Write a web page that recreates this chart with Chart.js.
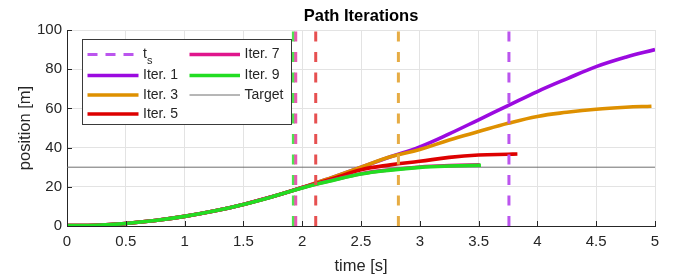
<!DOCTYPE html>
<html>
<head>
<meta charset="utf-8">
<script src="https://cdn.jsdelivr.net/npm/chart.js@4/dist/chart.umd.min.js"></script>
<style>
  html, body { margin: 0; padding: 0; background: #ffffff; }
  #wrap { width: 674px; height: 275px; }
</style>
</head>
<body>
<div id="wrap"><canvas id="c" width="674" height="275"></canvas></div>
<script>
// ---- data ----
const xTicks = [0, 0.5, 1, 1.5, 2, 2.5, 3, 3.5, 4, 4.5, 5];
const yTicks = [0, 20, 40, 60, 80, 100];

const iter1T = [0, 0.25, 0.5, 0.75, 1, 1.25, 1.5, 1.75, 2, 2.25, 2.5, 2.75, 3, 3.25, 3.5, 3.75, 4, 4.25, 4.5, 4.75, 5];
const iter1Y = [0.2, 0.4, 1.3, 2.8, 4.9, 7.6, 11.0, 15.0, 19.6, 24.7, 30.0, 35.3, 40.4, 47.0, 54.2, 61.4, 68.6, 75.1, 81.3, 86.1, 90.0];

const iter3T = [0, 0.25, 0.5, 0.75, 1, 1.25, 1.5, 1.75, 2, 2.25, 2.5, 2.75, 3, 3.25, 3.5, 3.75, 4, 4.25, 4.5, 4.75, 4.97];
const iter3Y = [0.2, 0.4, 1.3, 2.8, 4.9, 7.6, 11.0, 15.0, 19.6, 24.7, 30.0, 35.3, 39.0, 43.9, 48.2, 52.4, 55.9, 58.0, 59.6, 60.6, 61.1];

const iter5T = [0, 0.25, 0.5, 0.75, 1, 1.25, 1.5, 1.75, 2, 2.25, 2.5, 2.75, 3, 3.25, 3.5, 3.75, 3.83];
const iter5Y = [0.2, 0.4, 1.3, 2.8, 4.9, 7.6, 11.0, 15.0, 19.6, 24.0, 28.7, 31.2, 33.0, 35.0, 36.2, 36.6, 36.7];

const iter7T = [0, 0.25, 0.5, 0.75, 1, 1.25, 1.5, 1.75, 2, 2.25, 2.5, 2.75, 3, 3.25, 3.51];
const iter7Y = [0.2, 0.4, 1.3, 2.8, 4.9, 7.6, 11.0, 15.0, 19.5, 23.3, 26.7, 28.7, 30.1, 30.8, 31.2];

const iter9T = [0, 0.25, 0.5, 0.75, 1, 1.25, 1.5, 1.75, 2, 2.25, 2.5, 2.75, 3, 3.25, 3.52];
const iter9Y = [0.2, 0.4, 1.3, 2.8, 4.9, 7.6, 11.0, 15.0, 19.4, 23.1, 26.5, 28.5, 29.9, 30.6, 31.0];

// switching times t_s per iteration
const tsLabels = ['Iter. 1', 'Iter. 3', 'Iter. 5', 'Iter. 7', 'Iter. 9'];
const tsValues = [3.758, 2.818, 2.115, 1.945, 1.925];

const targetT = [0, 5];
const targetY = [30, 30];

// ---- styles ----
const solid = {
  'Iter. 1': '#9b0ae0',
  'Iter. 3': '#de9000',
  'Iter. 5': '#dd0000',
  'Iter. 7': '#e0168c',
  'Iter. 9': '#22dd22'
};
const dashed = {
  'Iter. 1': '#bb55ee',
  'Iter. 3': '#e6ac44',
  'Iter. 5': '#e65050',
  'Iter. 7': '#e65ab0',
  'Iter. 9': '#50e050'
};

const pts = (T, Y) => T.map((t, i) => ({ x: t, y: Y[i] }));

const datasets = [];
// dashed t_s lines (on top)
tsLabels.forEach((lab, i) => {
  datasets.push({
    label: 't_s ' + lab,
    data: [{ x: tsValues[i], y: 0 }, { x: tsValues[i], y: 100 }],
    borderColor: dashed[lab],
    borderWidth: 3,
    borderDash: [10, 10.5],
    pointRadius: 0,
    showLine: true,
    fill: false
  });
});
const curves = [
  ['Iter. 9', iter9T, iter9Y],
  ['Iter. 7', iter7T, iter7Y],
  ['Iter. 5', iter5T, iter5Y],
  ['Iter. 3', iter3T, iter3Y],
  ['Iter. 1', iter1T, iter1Y]
];
curves.forEach(([lab, T, Y]) => {
  datasets.push({
    label: lab,
    data: pts(T, Y),
    borderColor: solid[lab],
    borderWidth: 3.6,
    pointRadius: 0,
    showLine: true,
    tension: 0.4,
    borderCapStyle: 'butt',
    fill: false
  });
});
datasets.push({
  label: 'Target',
  data: pts(targetT, targetY),
  borderColor: '#6e6e6e',
  borderWidth: 1,
  pointRadius: 0,
  showLine: true,
  fill: false
});

const FONT = '"Liberation Sans", Arial, Helvetica, sans-serif';
const AX = '#262626';

const decor = {
  id: 'decor',
  afterDatasetsDraw(chart) {
    const ctx = chart.ctx;
    const a = chart.chartArea;
    const xs = chart.scales.x, ys = chart.scales.y;
    ctx.save();
    // inward tick marks
    ctx.strokeStyle = AX;
    ctx.lineWidth = 1;
    ctx.beginPath();
    xTicks.forEach(v => {
      const px = Math.round(xs.getPixelForValue(v)) + 0.5;
      ctx.moveTo(px, a.bottom);
      ctx.lineTo(px, a.bottom - 5);
    });
    yTicks.forEach(v => {
      const py = Math.round(ys.getPixelForValue(v)) + 0.5;
      ctx.moveTo(a.left, py);
      ctx.lineTo(a.left + 5, py);
    });
    ctx.stroke();

    // legend box
    const bx = 82.5, by = 39.5, bw = 209, bh = 85;
    ctx.fillStyle = '#ffffff';
    ctx.fillRect(bx, by, bw, bh);
    ctx.strokeStyle = '#3a3a3a';
    ctx.lineWidth = 1;
    ctx.strokeRect(bx, by, bw, bh);

    const rows = [54.5, 75.5, 95, 114];
    const items = [
      { col: 0, row: 0, label: 't', sub: 's', color: dashed['Iter. 1'], dash: true, w: 3 },
      { col: 0, row: 1, label: 'Iter. 1', color: solid['Iter. 1'], w: 3.6 },
      { col: 0, row: 2, label: 'Iter. 3', color: solid['Iter. 3'], w: 3.6 },
      { col: 0, row: 3, label: 'Iter. 5', color: solid['Iter. 5'], w: 3.6 },
      { col: 1, row: 0, label: 'Iter. 7', color: solid['Iter. 7'], w: 3.6 },
      { col: 1, row: 1, label: 'Iter. 9', color: solid['Iter. 9'], w: 3.6 },
      { col: 1, row: 2, label: 'Target', color: '#6e6e6e', w: 1 }
    ];
    const colX = [[87.5, 138.5, 143], [189.5, 240, 244.5]];
    ctx.textBaseline = 'middle';
    ctx.textAlign = 'left';
    items.forEach(it => {
      const y = rows[it.row];
      const [x0, x1, tx] = colX[it.col];
      ctx.beginPath();
      ctx.strokeStyle = it.color;
      ctx.lineWidth = it.w;
      ctx.setLineDash(it.dash ? [10, 8] : []);
      ctx.moveTo(x0, y);
      ctx.lineTo(x1, y);
      ctx.stroke();
      ctx.setLineDash([]);
      ctx.fillStyle = AX;
      ctx.font = '14px ' + FONT;
      ctx.fillText(it.label, tx, y);
      if (it.sub) {
        const w = ctx.measureText(it.label).width;
        ctx.font = '11px ' + FONT;
        ctx.fillText(it.sub, tx + w, y + 6);
      }
    });

    // title
    ctx.fillStyle = '#000000';
    ctx.font = 'bold 16.5px ' + FONT;
    ctx.textAlign = 'center';
    ctx.textBaseline = 'middle';
    ctx.fillText('Path Iterations', (a.left + a.right) / 2, 16);

    // axis titles
    ctx.fillStyle = AX;
    ctx.font = '16.5px ' + FONT;
    ctx.fillText('time [s]', (a.left + a.right) / 2, 266.5);
    ctx.save();
    ctx.translate(25, (a.top + a.bottom) / 2);
    ctx.rotate(-Math.PI / 2);
    ctx.fillText('position [m]', 0, 0);
    ctx.restore();
    ctx.restore();
  }
};

new Chart(document.getElementById('c'), {
  type: 'scatter',
  data: { datasets },
  plugins: [decor],
  options: {
    responsive: false,
    animation: false,
    devicePixelRatio: 1,
    layout: { padding: { left: 0, right: 19, top: 30, bottom: 0 } },
    plugins: {
      legend: { display: false },
      title: { display: false },
      tooltip: { enabled: false }
    },
    scales: {
      x: {
        type: 'linear',
        min: 0, max: 5,
        afterBuildTicks: s => { s.ticks = xTicks.map(v => ({ value: v })); },
        afterFit: s => { s.height = 49; },
        grid: { color: '#e3e3e3', lineWidth: 1, drawTicks: false },
        border: { display: true, color: AX, width: 1 },
        ticks: {
          color: AX, padding: 7,
          font: { family: FONT, size: 15 },
          maxRotation: 0,
          callback: v => String(v)
        }
      },
      y: {
        type: 'linear',
        min: 0, max: 100,
        afterBuildTicks: s => { s.ticks = yTicks.map(v => ({ value: v })); },
        afterFit: s => { s.width = 67; },
        grid: { color: '#e3e3e3', lineWidth: 1, drawTicks: false },
        border: { display: true, color: AX, width: 1 },
        ticks: {
          color: AX, padding: 5,
          font: { family: FONT, size: 15 },
          callback: v => String(v)
        }
      }
    }
  }
});
</script>
</body>
</html>
